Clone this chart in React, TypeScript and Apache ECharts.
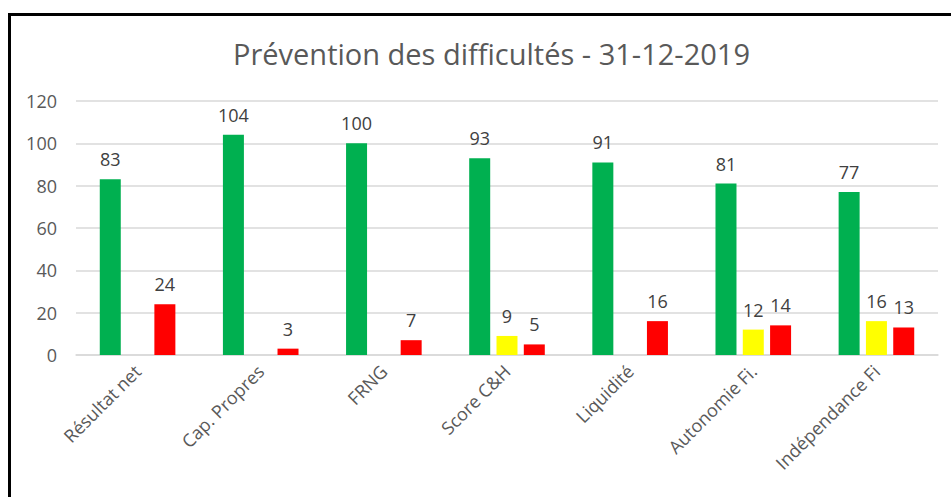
import React, { useEffect, useRef } from "react";
import * as echarts from "echarts";

const TITLE = "Prévention des difficultés - 31-12-2019";
const CATEGORIES = [
  "Résultat net",
  "Cap. Propres",
  "FRNG",
  "Score C&H",
  "Liquidité",
  "Autonomie Fi.",
  "Indépendance Fi",
];
const GREEN_VALUES = [83, 104, 100, 93, 91, 81, 77];
const YELLOW_VALUES = [null, null, null, 9, null, 12, 16];
const RED_VALUES = [24, 3, 7, 5, 16, 14, 13];
const Y_MIN = 0;
const Y_MAX = 120;
const Y_INTERVAL = 20;

const FONT = "'Open Sans', 'Noto Sans', sans-serif";

export default function App() {
  const ref = useRef<HTMLDivElement>(null);
  useEffect(() => {
    if (!ref.current) return;
    const chart = echarts.init(ref.current, undefined, { renderer: "svg" });
    const label = {
      show: true,
      position: "top" as const,
      distance: 11,
      color: "#404040",
      fontSize: 18,
      fontFamily: FONT,
    };
    const mk = (name: string, data: (number | null)[], color: string) => ({
      name,
      type: "bar" as const,
      data,
      barWidth: 21,
      barGap: "30%",
      itemStyle: { color },
      label,
    });
    chart.setOption({
      animation: false,
      backgroundColor: "#ffffff",
      title: {
        text: TITLE,
        left: 228,
        top: 34,
        textStyle: {
          color: "#595959",
          fontSize: 29,
          fontWeight: "normal",
          fontFamily: FONT,
        },
      },
      graphic: [
        {
          type: "rect",
          shape: { x: 9.5, y: 14.5, width: 960, height: 500 },
          style: { fill: "none", stroke: "#000000", lineWidth: 3 },
          z: 100,
        },
      ],
      grid: { left: 76, right: 13, top: 101, bottom: 142 },
      xAxis: {
        type: "category",
        data: CATEGORIES,
        axisLine: { show: true, lineStyle: { color: "#d9d9d9", width: 1.5 } },
        axisTick: { show: false },
        axisLabel: {
          rotate: 45,
          margin: 13,
          color: "#595959",
          fontSize: 18,
          fontFamily: FONT,
          interval: 0,
        },
      },
      yAxis: {
        type: "value",
        min: Y_MIN,
        max: Y_MAX,
        interval: Y_INTERVAL,
        axisLine: { show: false },
        axisTick: { show: false },
        splitLine: { lineStyle: { color: "#d9d9d9", width: 1.5 } },
        axisLabel: {
          margin: 19,
          color: "#595959",
          fontSize: 18,
          fontFamily: FONT,
        },
      },
      series: [
        mk("Vert", GREEN_VALUES, "#00B050"),
        mk("Jaune", YELLOW_VALUES, "#FFFF00"),
        mk("Rouge", RED_VALUES, "#FF0000"),
      ],
    });
    return () => chart.dispose();
  }, []);
  return (
    <div
      ref={ref}
      style={{ position: "fixed", left: 0, top: 0, width: 951, height: 497 }}
    />
  );
}
